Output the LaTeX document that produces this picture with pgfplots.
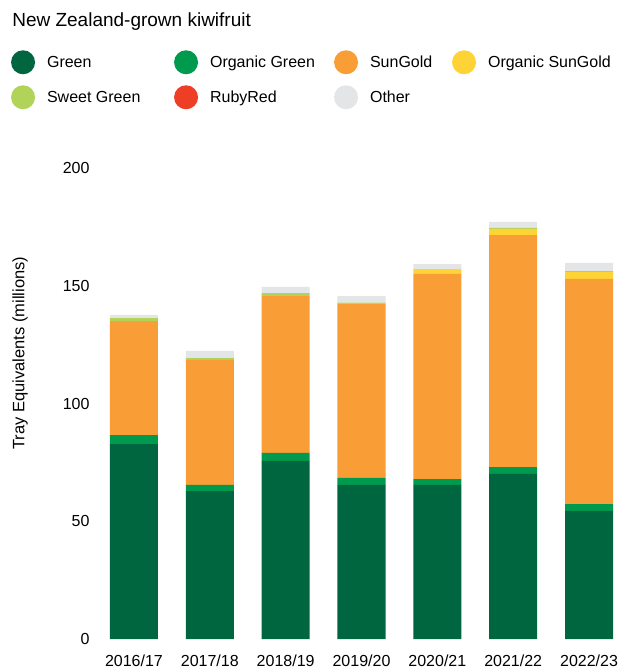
\documentclass[border=0pt]{standalone}
\usepackage{fontspec}
\setmainfont{Liberation Sans}
\usepackage{pgfplots}
\pgfplotsset{compat=1.18}
\usepackage{pgfplotstable}

\definecolor{cGreen}{HTML}{00663F}
\definecolor{cOrgGreen}{HTML}{009A4E}
\definecolor{cSunGold}{HTML}{F99D36}
\definecolor{cOrgSunGold}{HTML}{FDD335}
\definecolor{cSweet}{HTML}{B1D35A}
\definecolor{cRuby}{HTML}{EE3E26}
\definecolor{cOther}{HTML}{E4E5E7}

% tray equivalents (millions) by season
\pgfplotstableread{
x green orggreen sungold orgsungold sweet ruby other
0 82.8 3.8 48.4 0.0 1.3 0 1.3
1 62.8 2.6 53.1 0.0 0.8 0 3.0
2 75.6 3.4 66.6 0.0 1.3 0 2.6
3 65.4 3.0 74.1 0.0 0.3 0 2.8
4 65.4 2.5 87.1 1.8 0.3 0 2.1
5 70.1 2.9 98.5 2.7 0.4 0 2.5
6 54.4 2.9 95.6 2.9 0.4 0 3.5
}\kiwi

\newcommand{\lbox}[2]{\makebox[#1][l]{#2}}

\begin{document}
\begin{tikzpicture}
\begin{axis}[
    width=531pt, height=471pt, scale only axis,
    ybar stacked, bar width=0.633,
    xmin=-0.5, xmax=6.5, ymin=0, ymax=200,
    ytick={0,50,100,150,200},
    xtick={0,...,6},
    xticklabels={2016/17,2017/18,2018/19,2019/20,2020/21,2021/22,2022/23},
    axis line style={draw=none},
    tick style={draw=none},
    /pgf/number format/assume math mode=true,
    tick label style={font=\fontsize{16}{19}\selectfont},
    yticklabel style={xshift=-3pt},
    xticklabel style={yshift=-12pt},
    ylabel={Tray Equivalents (millions)},
    every axis y label/.style={at={(axis description cs:-0.143,0.607)}, rotate=90, anchor=center, font=\fontsize{16.5}{19}\selectfont},
    legend columns=4,
    legend cell align=left,
    legend style={at={(axis description cs:-0.166,1.12)}, anchor=south west, draw=none, fill=none,
        font=\fontsize{16}{19}\selectfont, row sep=11pt, column sep=0pt,
        nodes={inner sep=0pt}},
    every axis plot/.append style={draw=none,
        legend image code/.code={\fill[##1, draw=none] (12pt,0pt) circle (12pt);\path (36pt,0pt);}},
    clip=false,
]
\addplot[fill=cGreen] table[x=x, y=green] {\kiwi};
\addlegendentry{\lbox{127pt}{Green}}
\addplot[fill=cOrgGreen] table[x=x, y=orggreen] {\kiwi};
\addlegendentry{\lbox{124pt}{Organic Green}}
\addplot[fill=cSunGold] table[x=x, y=sungold] {\kiwi};
\addlegendentry{\lbox{82pt}{SunGold}}
\addplot[fill=cOrgSunGold] table[x=x, y=orgsungold] {\kiwi};
\addlegendentry{Organic SunGold}
\addplot[fill=cSweet] table[x=x, y=sweet] {\kiwi};
\addlegendentry{\lbox{127pt}{Sweet Green}}
\addplot[fill=cRuby] table[x=x, y=ruby] {\kiwi};
\addlegendentry{\lbox{124pt}{RubyRed}}
\addplot[fill=cOther] table[x=x, y=other] {\kiwi};
\addlegendentry{\lbox{82pt}{Other}}

\node[anchor=west, inner sep=0pt, font=\fontsize{19}{22}\selectfont] at (axis description cs:-0.158,1.31) {New Zealand-grown kiwifruit};
\coordinate (O) at (rel axis cs:0,0);
\end{axis}
\pgfresetboundingbox
\path[use as bounding box] (O) ++(-96pt,-32pt) rectangle ++(627pt,671pt);
\end{tikzpicture}
\end{document}
